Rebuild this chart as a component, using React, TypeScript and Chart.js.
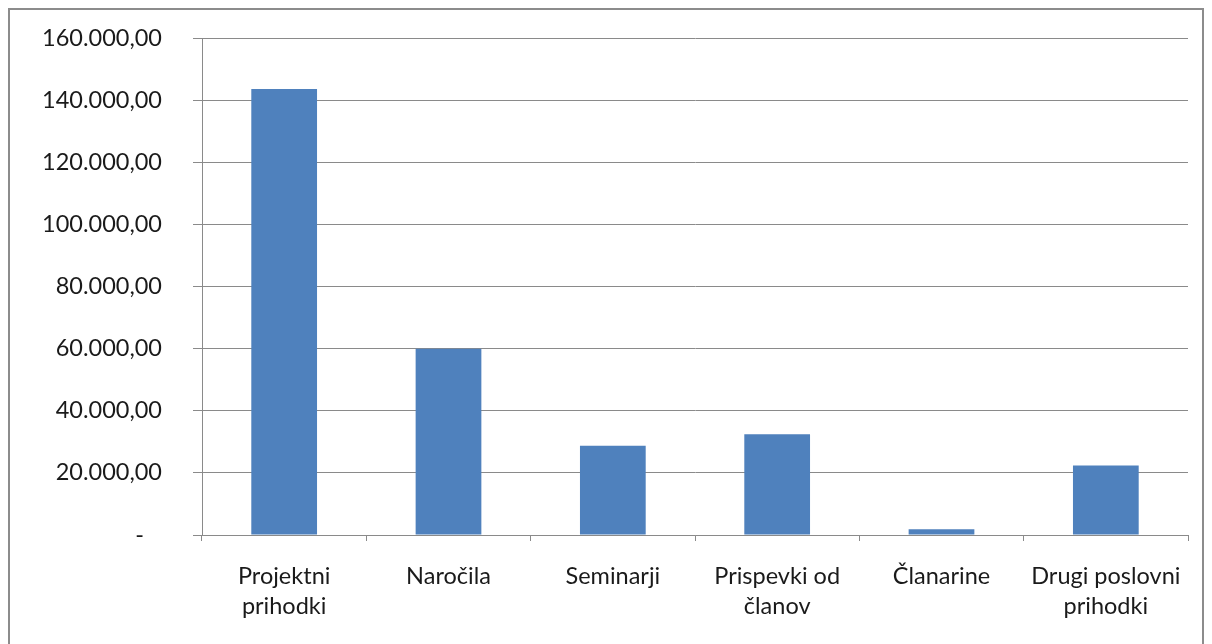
import React, { useEffect, useRef } from "react";
import { Chart, registerables } from "chart.js";

Chart.register(...registerables);

const categories: string[][] = [
  ["Projektni", "prihodki"],
  ["Naročila"],
  ["Seminarji"],
  ["Prispevki od", "članov"],
  ["Članarine"],
  ["Drugi poslovni", "prihodki"],
];
const values: number[] = [143600, 60000, 28700, 32400, 1850, 22400];
const yMin = 0;
const yMax = 160000;
const yStep = 20000;

function formatSl(v: number): string {
  if (v === 0) return "-   ";
  const fixed = Math.abs(v).toFixed(2);
  const [intPart, dec] = fixed.split(".");
  const withDots = intPart.replace(/\B(?=(\d{3})+(?!\d))/g, ".");
  return (v < 0 ? "-" : "") + withDots + "," + dec;
}

export default function App() {
  const ref = useRef<HTMLCanvasElement | null>(null);
  useEffect(() => {
    if (!ref.current) return;
    const font = { family: "Lato, 'Open Sans', sans-serif", size: 23.5, lineHeight: 1.28 };
    const gridColor = "#8a8a8a";
    const chart = new Chart(ref.current, {
      type: "bar",
      data: {
        labels: categories,
        datasets: [
          {
            data: values,
            backgroundColor: "#4F81BD",
            borderWidth: 0,
            categoryPercentage: 1,
            barPercentage: 0.4,
          },
        ],
      },
      options: {
        animation: false,
        responsive: false,
        maintainAspectRatio: false,
        layout: { padding: { left: 0, top: 38, right: 24, bottom: 0 } },
        plugins: { legend: { display: false }, tooltip: { enabled: false } },
        scales: {
          x: {
            grid: {
              offset: true,
              drawOnChartArea: false,
              drawTicks: true,
              tickLength: 6,
              color: gridColor,
            },
            border: { display: true, color: gridColor },
            ticks: { font, color: "#1a1a1a", padding: 20, maxRotation: 0, autoSkip: false },
            afterFit: (s: any) => {
              s.height = 644 - 535;
              s.paddingLeft = 0;
              s.paddingRight = 0;
            },
          },
          y: {
            min: yMin,
            max: yMax,
            grid: { color: gridColor, tickLength: 9, drawTicks: true },
            border: { display: true, color: gridColor },
            ticks: {
              stepSize: yStep,
              font,
              color: "#1a1a1a",
              padding: 31,
              callback: (v: any) => formatSl(Number(v)),
            },
            afterFit: (s: any) => {
              s.width = 202;
              s.paddingTop = 0;
              s.paddingBottom = 0;
            },
          },
        },
      },
    });
    return () => chart.destroy();
  }, []);
  return (
    <>
      <div
        style={{
          position: "fixed",
          left: 8,
          top: 8,
          width: 1196,
          height: 640,
          borderTop: "2px solid #8c8c8c",
          borderLeft: "2px solid #8c8c8c",
          borderRight: "2px solid #8c8c8c",
          boxSizing: "border-box",
          background: "#fff",
        }}
      />
      <canvas
        ref={ref}
        width={1212}
        height={644}
        style={{ position: "fixed", left: 0, top: 0, width: 1212, height: 644 }}
      />
    </>
  );
}
